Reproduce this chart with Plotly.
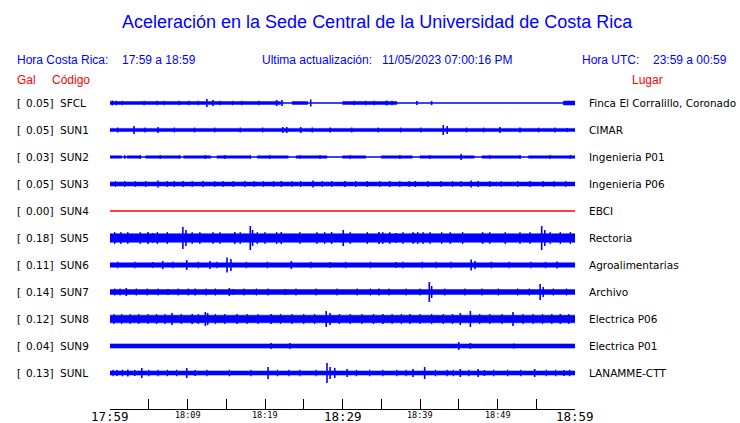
import plotly.graph_objects as go

# ---------------- data ----------------
codes = ["SFCL", "SUN1", "SUN2", "SUN3", "SUN4", "SUN5", "SUN6", "SUN7", "SUN8", "SUN9", "SUNL"]
peak_gal = ["0.05", "0.05", "0.03", "0.05", "0.00", "0.18", "0.11", "0.14", "0.12", "0.04", "0.13"]
places = ["Finca El Corralillo, Coronado", "CIMAR", "Ingenieria P01", "Ingenieria P06", "EBCI",
          "Rectoria", "Agroalimentarias", "Archivo", "Electrica P06", "Electrica P01", "LANAMME-CTT"]
trace_colors = ["#0000ff"] * 4 + ["#ff0000"] + ["#0000ff"] * 6

# minutes since 17:59 ; tick labels every 10 min
tick_minutes = [0, 10, 20, 30, 40, 50, 60]
tick_labels = ["17:59", "18:09", "18:19", "18:29", "18:39", "18:49", "18:59"]
minor_minutes = [0, 5, 10, 15, 20, 25, 30, 35, 40, 45, 50, 55, 60]

# background-noise envelope (start min, end min, half amplitude, display units)
band_SFCL = [(0, 22, 1.4), (23.5, 25.5, 1.4), (30, 37, 1.5), (58.5, 60, 2.0)]
band_SUN1 = [(0, 60, 1.6)]
band_SUN2 = [(0, 1.5, 1.2), (2.2, 4.0, 1.2), (4.6, 9.0, 1.2), (9.5, 13.0, 1.2), (13.8, 18.0, 1.2),
             (19.0, 23.0, 1.2), (24.0, 28.0, 1.2), (30.0, 33.0, 1.2), (35.0, 39.0, 1.2),
             (40.0, 47.0, 1.2), (48.0, 53.0, 1.2), (54.0, 60.0, 1.2)]
band_SUN3 = [(0, 60, 2.0)]
band_SUN4 = []
band_SUN5 = [(0, 60, 4.3)]
band_SUN6 = [(0, 60, 2.2)]
band_SUN7 = [(0, 60, 2.4)]
band_SUN8 = [(0, 60, 3.8)]
band_SUN9 = [(0, 60, 2.1)]
band_SUNL = [(0, 60, 2.1)]

# transient peaks (minute, half amplitude)
peaks_SFCL = [(0.3, 2.5), (12.5, 4), (13.3, 3), (21.5, 3), (22.2, 3), (25.9, 3.5), (35.7, 2.5), (39.6, 2), (41.5, 2)]
peaks_SUN1 = [(3.1, 4), (6.2, 3), (22.3, 3), (22.8, 3), (24.6, 3), (28.4, 2.5), (43.0, 5), (43.5, 4),
              (50.3, 3), (52.9, 2.5), (59.0, 2)]
peaks_SUN2 = [(1.9, 1.8), (3.9, 1.8), (6.5, 1.8), (9.0, 1.8), (12.3, 1.8), (14.8, 1.8), (18.1, 1.8),
              (20.6, 1.8), (24.5, 1.8), (27.1, 1.8), (31.0, 1.8), (37.4, 1.8), (41.3, 1.8), (45.3, 3),
              (49.0, 1.8), (52.9, 1.8), (56.8, 1.8), (59.4, 2)]
peaks_SUN3 = [(6.2, 3.5), (9.4, 3), (12.0, 3), (17.4, 3), (22.1, 3), (26.2, 3.5), (30.3, 3), (36.1, 3),
              (39.4, 3), (46.6, 3.5), (47.5, 3), (54.2, 3)]
peaks_SUN4 = []
peaks_SUN5 = [(4.9, 6), (5.5, 5), (9.4, 11), (9.8, 8), (16.1, 6), (18.1, 12), (18.4, 8), (22.1, 6),
              (28.6, 6), (30.1, 8), (34.7, 6), (36.9, 5), (39.2, 5), (48.0, 4.5), (55.7, 12), (56.1, 8)]
peaks_SUN6 = [(5.5, 3), (6.8, 4), (9.9, 5), (12.9, 4), (15.1, 7.5), (15.6, 6), (23.4, 4), (28.4, 3),
              (36.9, 3), (46.6, 5.5), (47.1, 4), (57.7, 3.5)]
peaks_SUN7 = [(2.1, 4), (7.5, 3), (11.0, 3.5), (15.4, 4), (15.9, 3), (22.6, 3), (34.7, 3.5), (41.2, 10),
              (41.5, 6), (55.5, 8), (55.9, 5)]
peaks_SUN8 = [(8.0, 6), (10.6, 5), (12.3, 7), (12.6, 6), (16.4, 5), (20.8, 5), (27.9, 8), (28.4, 6),
              (35.2, 5), (38.7, 5), (45.2, 6), (46.5, 8), (52.0, 7), (58.1, 5)]
peaks_SUN9 = [(20.8, 3), (23.2, 3), (45.0, 4), (46.5, 3), (52.1, 2.5)]
peaks_SUNL = [(0.9, 3), (2.3, 3.5), (3.2, 3), (4.1, 5), (9.9, 5), (11.0, 3), (20.4, 6), (28.0, 10),
              (28.4, 6), (29.0, 5), (30.6, 4), (39.1, 4), (40.6, 6), (45.2, 4), (47.5, 4), (48.3, 3),
              (54.8, 4), (58.6, 3)]

# smaller bursts riding on the noise (minute list, one half amplitude per trace)
fuzz_SFCL = ([0.8, 1.6, 4.4, 6.1, 7.0, 8.9, 10.2, 11.4, 14.2, 15.8, 17.0, 19.2, 31.5, 33.0, 34.1, 36.4], 2.2)
fuzz_SUN1 = ([1.0, 4.5, 8.3, 10.9, 13.5, 16.8, 19.7, 26.1, 31.2, 34.6, 37.5, 40.1, 46.0, 48.2, 55.3, 57.4], 2.4)
fuzz_SUN2 = ([], 0)
fuzz_SUN3 = ([0.7, 1.9, 3.3, 4.6, 7.4, 8.3, 10.6, 13.5, 14.6, 15.9, 18.6, 19.8, 21.1, 23.5, 24.6, 27.4,
              28.6, 31.7, 33.2, 34.8, 37.4, 38.6, 41.0, 42.7, 44.2, 45.3, 49.0, 50.5, 52.6, 55.9, 57.3, 58.8], 2.9)
fuzz_SUN4 = ([], 0)
fuzz_SUN5 = ([0.6, 1.4, 2.3, 3.9, 6.1, 7.4, 10.6, 11.6, 13.3, 14.2, 16.8, 19.0, 20.0, 21.5, 24.5, 26.7,
              27.7, 31.0, 33.2, 35.2, 36.1, 37.8, 39.1, 39.7, 40.4, 41.3, 42.8, 43.9, 45.5, 48.1, 49.0,
              51.0, 52.9, 54.2, 56.8, 58.1, 59.4], 6.0)
fuzz_SUN6 = ([1.0, 3.2, 8.1, 11.4, 13.8, 17.6, 20.3, 25.9, 30.4, 33.6, 37.8, 40.3, 42.1, 44.0, 49.2,
              51.5, 54.3, 56.2], 3.2)
fuzz_SUN7 = ([0.6, 1.3, 3.4, 4.8, 6.2, 8.8, 10.1, 12.4, 13.6, 17.3, 18.9, 20.4, 24.0, 26.6, 29.3, 31.9,
              33.6, 36.0, 38.2, 40.0, 43.2, 45.8, 48.0, 50.1, 52.6, 54.1, 57.2, 58.9], 3.5)
fuzz_SUN8 = ([0.5, 1.5, 2.6, 3.7, 4.9, 6.0, 7.1, 9.2, 11.4, 13.6, 14.8, 17.7, 19.1, 22.0, 23.5, 25.0,
              26.4, 29.6, 31.0, 32.5, 34.0, 36.4, 37.6, 40.0, 41.5, 43.0, 44.2, 47.7, 49.0, 50.6, 53.3,
              54.6, 55.8, 57.0, 59.2], 5.0)
fuzz_SUN9 = ([], 0)
fuzz_SUNL = ([0.4, 1.6, 5.0, 6.2, 7.4, 8.6, 12.5, 15.4, 18.2, 21.6, 23.1, 24.5, 26.6, 31.8, 33.5, 35.2,
              37.0, 38.2, 42.0, 43.5, 44.3, 46.3, 49.5, 51.3, 53.0, 56.3, 57.5, 59.3], 3.3)

bands = [band_SFCL, band_SUN1, band_SUN2, band_SUN3, band_SUN4, band_SUN5,
         band_SUN6, band_SUN7, band_SUN8, band_SUN9, band_SUNL]
peaks = [peaks_SFCL, peaks_SUN1, peaks_SUN2, peaks_SUN3, peaks_SUN4, peaks_SUN5,
         peaks_SUN6, peaks_SUN7, peaks_SUN8, peaks_SUN9, peaks_SUNL]
fuzz = [fuzz_SFCL, fuzz_SUN1, fuzz_SUN2, fuzz_SUN3, fuzz_SUN4, fuzz_SUN5,
        fuzz_SUN6, fuzz_SUN7, fuzz_SUN8, fuzz_SUN9, fuzz_SUNL]

# ---------------- layout geometry ----------------
W, H = 740, 423
L, R, T, B = 110, 575, 90, 409
ROW0, ROWSTEP = 103, 27


def pxx(x):
    return (x - L) / (R - L)


def pxy(y):
    return (B - y) / (B - T)


AMP = 1.0 / ROWSTEP  # display amplitude units -> row units

fig = go.Figure()

for i, code in enumerate(codes):
    col = trace_colors[i]
    # baseline
    fig.add_trace(go.Scatter(x=[0, 60], y=[i, i], mode="lines",
                             line=dict(color=col, width=1.3), hoverinfo="skip", showlegend=False))
    # noise band
    bx, by = [], []
    for s, e, h in bands[i]:
        a = h * AMP
        bx += [s, e, e, s, s, None]
        by += [i - a, i - a, i + a, i + a, i - a, None]
    if bx:
        fig.add_trace(go.Scatter(x=bx, y=by, mode="lines", fill="toself", fillcolor=col,
                                 line=dict(color=col, width=0.5), hoverinfo="skip", showlegend=False))
    # small bursts
    fm, fh = fuzz[i]
    fx, fy = [], []
    for m in fm:
        a = fh * AMP
        fx += [m, m, None]
        fy += [i - a, i + a, None]
    if fx:
        fig.add_trace(go.Scatter(x=fx, y=fy, mode="lines",
                                 line=dict(color=col, width=1.3), hoverinfo="skip", showlegend=False))
    # peaks
    sx, sy = [], []
    for m, h in peaks[i]:
        a = h * AMP
        sx += [m, m, None]
        sy += [i - a, i + a, None]
    if sx:
        fig.add_trace(go.Scatter(x=sx, y=sy, mode="lines",
                                 line=dict(color=col, width=1.6), hoverinfo="skip", showlegend=False))

annotations = []
lab_font = dict(family="DejaVu Sans", size=10.5, color="black")
for i, code in enumerate(codes):
    yy = pxy(ROW0 + ROWSTEP * i)
    annotations.append(dict(x=pxx(15), y=yy, xref="paper", yref="paper", text="[",
                            xanchor="left", yanchor="middle", showarrow=False, font=lab_font))
    annotations.append(dict(x=pxx(55), y=yy, xref="paper", yref="paper", text=peak_gal[i] + "]",
                            xanchor="right", yanchor="middle", showarrow=False, font=lab_font))
    annotations.append(dict(x=pxx(58), y=yy, xref="paper", yref="paper", text=code,
                            xanchor="left", yanchor="middle", showarrow=False, font=lab_font))
    annotations.append(dict(x=pxx(587), y=yy, xref="paper", yref="paper", text=places[i],
                            xanchor="left", yanchor="middle", showarrow=False, font=lab_font))

# time labels
for m, t in zip(tick_minutes, tick_labels):
    big = m in (0, 30, 60)
    annotations.append(dict(x=m, y=pxy(416.5 if big else 415), xref="x", yref="paper", text=t,
                            xanchor="center", yanchor="middle", showarrow=False,
                            font=dict(family="DejaVu Sans Mono",
                                      size=12.5 if big else 8.5, color="black")))

# header
hf = "Liberation Sans, Arial, sans-serif"
blue = "#0000ff"
red = "#ff0000"
header = [
    ("Aceleración en la Sede Central de la Universidad de Costa Rica", 377, 22, "center", 18, blue),
    ("Hora Costa Rica:", 15, 60, "left", 12, blue),
    ("17:59 a 18:59", 120, 60, "left", 12, blue),
    ("Ultima actualización:", 260, 60, "left", 12, blue),
    ("11/05/2023 07:00:16 PM", 380, 60, "left", 12, blue),
    ("Hora UTC:", 580, 60, "left", 12, blue),
    ("23:59 a 00:59", 651, 60, "left", 12, blue),
    ("Gal", 15, 80, "left", 12, red),
    ("Código", 50, 80, "left", 12, red),
    ("Lugar", 630, 80, "left", 12, red),
]
for txt, x, y, anc, sz, c in header:
    annotations.append(dict(x=pxx(x), y=pxy(y), xref="paper", yref="paper", text=txt,
                            xanchor=anc, yanchor="middle", showarrow=False,
                            font=dict(family=hf, size=sz, color=c)))

fig.update_layout(
    width=W, height=H,
    margin=dict(l=L, r=W - R, t=T, b=H - B, pad=0),
    paper_bgcolor="white", plot_bgcolor="white",
    showlegend=False,
    annotations=annotations,
    xaxis=dict(range=[0, 60], showgrid=False, zeroline=False, showline=True, linecolor="black",
               linewidth=1.2, ticks="inside", ticklen=10, tickwidth=1.2, tickcolor="black",
               tickvals=minor_minutes, showticklabels=False, fixedrange=True),
    yaxis=dict(range=[(B - ROW0) / ROWSTEP, (T - ROW0) / ROWSTEP], showgrid=False, zeroline=False,
               showline=False, showticklabels=False, ticks="", fixedrange=True),
)

fig.write_html("out.html", config={"displayModeBar": False},
               post_script="document.body.style.margin='0';document.body.style.padding='0';"
                           "document.body.style.overflow='hidden';")
